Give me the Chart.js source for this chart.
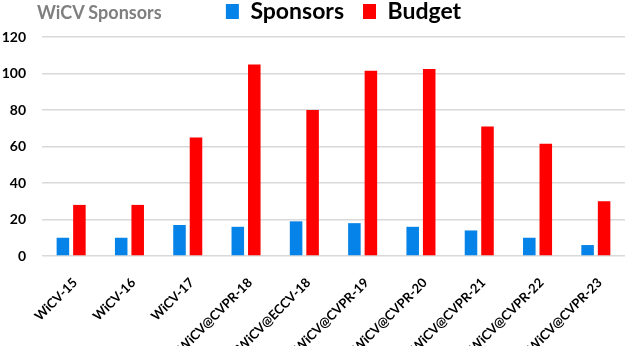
<!DOCTYPE html>
<html>
<head>
<meta charset="utf-8">
<script src="https://cdn.jsdelivr.net/npm/chart.js@4"></script>
<style>
  html, body { margin: 0; padding: 0; background: #fff; overflow: hidden; }
  #wrap { position: relative; width: 630px; height: 346px; }
  #titulo {
    position: absolute; left: 37px; top: 1px;
    font: bold 18px Lato, sans-serif; color: #7f7f7f;
  }
</style>
</head>
<body>
<div id="wrap">
  <canvas id="myChart" width="630" height="346"></canvas>
  <div id="titulo">WiCV Sponsors</div>
</div>
<script>
// datos
const categorias = ['WiCV-15', 'WiCV-16', 'WiCV-17', 'WiCV@CVPR-18', 'WiCV@ECCV-18',
  'WiCV@CVPR-19', 'WiCV@CVPR-20', 'WiCV@CVPR-21', 'WiCV@CVPR-22', 'WiCV@CVPR-23'];
const sponsors = [10, 10, 17, 16, 19, 18, 16, 14, 10, 6];
const budget = [28, 28, 65, 105, 80, 101.5, 102.5, 71, 61.5, 30];
const ticksY = [0, 20, 40, 60, 80, 100, 120];

const ctx = document.getElementById('myChart');

// ajusta la leyenda: menos alta, arriba y un poco a la derecha, como en la imagen
// (solo se mueve el borde de arriba para que el recorte no corte el texto)
const dx = 31, dy = -19;
const ajustarLeyenda = {
  id: 'ajustarLeyenda',
  afterInit(chart) {
    const l = chart.legend;
    const fitOriginal = l.fit;
    l.fit = function () {
      fitOriginal.call(this);
      this.height = 37;
    };
  },
  beforeDraw(chart) {
    const l = chart.legend;
    l.left += dx; l.right += dx;
    l.top += dy;
  },
  afterDraw(chart) {
    const l = chart.legend;
    l.left -= dx; l.right -= dx;
    l.top -= dy;
  }
};

const myChart = new Chart(ctx, {
  type: 'bar',
  data: {
    labels: categorias,
    datasets: [{
      label: 'Sponsors',
      data: sponsors,
      backgroundColor: '#0583e8',
      categoryPercentage: 0.566,
      barPercentage: 0.76
    }, {
      label: 'Budget',
      data: budget,
      backgroundColor: '#ff0000',
      categoryPercentage: 0.566,
      barPercentage: 0.76
    }]
  },
  options: {
    responsive: false,
    animation: false,
    layout: { padding: { top: 0, right: 5, left: 0, bottom: 0 } },
    plugins: {
      legend: {
        display: true,
        labels: {
          boxWidth: 13,
          boxHeight: 15,
          padding: 19,
          color: '#000',
          font: { family: 'Lato', size: 23, weight: 'bold' }
        }
      },
      tooltip: { enabled: false }
    },
    scales: {
      x: {
        grid: { display: false },
        border: { display: false },
        ticks: {
          minRotation: 45,
          maxRotation: 45,
          padding: 11,
          labelOffset: 4,
          color: '#000',
          font: { family: 'Lato', size: 13, weight: 'bold' }
        },
        afterFit: (scale) => { scale.height = 90; }
      },
      y: {
        min: 0,
        max: 120,
        afterBuildTicks: (scale) => { scale.ticks = ticksY.map(v => ({ value: v })); },
        grid: { color: '#d9d9d9', lineWidth: 1.5, drawTicks: false },
        border: { display: false },
        ticks: {
          padding: 16,
          color: '#000',
          font: { family: 'Lato', size: 14, weight: 'bold' }
        },
        afterFit: (scale) => { scale.width = 42; }
      }
    }
  },
  plugins: [ajustarLeyenda]
});
</script>
</body>
</html>
